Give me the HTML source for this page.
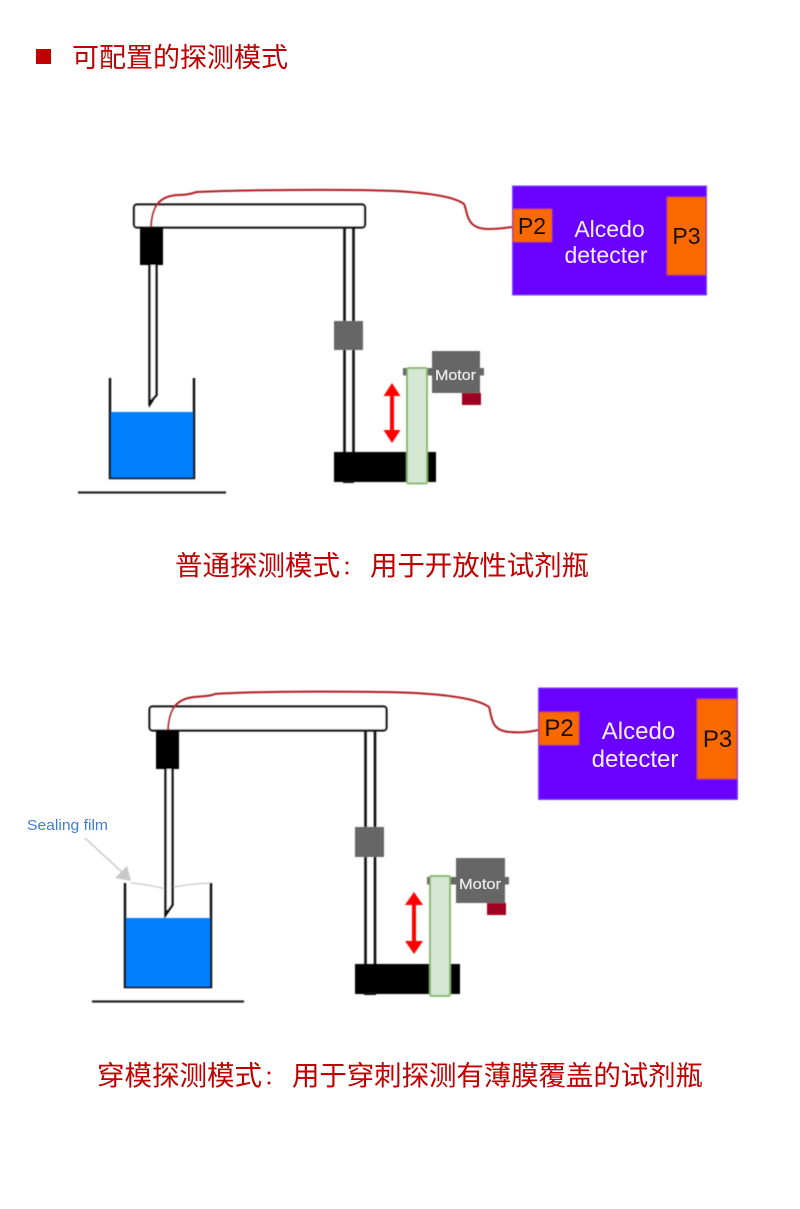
<!DOCTYPE html>
<html lang="zh"><head><meta charset="utf-8"><title>可配置的探测模式</title>
<style>
html,body{margin:0;padding:0;background:#fff}
svg{display:block}
.cjk{font-family:"Liberation Sans","Noto Sans CJK SC",sans-serif;fill:#c00000}
.lat{font-family:"Liberation Sans",sans-serif}
</style></head><body>
<svg width="800" height="1209" viewBox="0 0 800 1209" xmlns="http://www.w3.org/2000/svg">
<defs>
<filter id="b" x="-5%" y="-5%" width="110%" height="110%"><feGaussianBlur stdDeviation="0.4"/></filter>
<filter id="t" x="-5%" y="-5%" width="110%" height="110%"><feGaussianBlur stdDeviation="0.3"/></filter>
</defs>
<rect x="36" y="49" width="15" height="15" fill="#c00000"/>
<g filter="url(#t)">
<text class="cjk" x="72" y="67" font-size="27" textLength="216" lengthAdjust="spacing">可配置的探测模式</text>
<text class="cjk" x="175" y="575" font-size="27.5" textLength="165" lengthAdjust="spacing">普通探测模式</text>
<text class="cjk" x="342" y="574" font-size="20">：</text>
<text class="cjk" x="370" y="575" font-size="27.5" textLength="219" lengthAdjust="spacing">用于开放性试剂瓶</text>
<text class="cjk" x="97" y="1085" font-size="27.5" textLength="165" lengthAdjust="spacing">穿模探测模式</text>
<text class="cjk" x="264" y="1084" font-size="20">：</text>
<text class="cjk" x="292" y="1085" font-size="27.5" textLength="411" lengthAdjust="spacing">用于穿刺探测有薄膜覆盖的试剂瓶</text>
</g>

<g filter="url(#b)">
<!-- diagram 1 -->
<rect x="134" y="204.500" width="231" height="23" rx="3" fill="#fff" stroke="#111" stroke-width="2.200"/>
<rect x="140" y="227" width="23" height="38" fill="#000"/>
<path d="M149.500 265V403L156.500 395V265" fill="#fff" stroke="#111" stroke-width="2.400"/>
<path d="M149 408V400L154 400Z" fill="#111"/>
<path d="M110 378V478H194V378" fill="none" stroke="#111" stroke-width="2.400"/>
<rect x="111" y="412" width="82" height="65.500" fill="#0080ff"/>
<path d="M78 492.500H226" stroke="#222" stroke-width="2.200"/>
<path d="M344.500 227V482M353.500 227V482" stroke="#111" stroke-width="2.600"/>
<rect x="334" y="321" width="29" height="29" fill="#666"/>
<rect x="334" y="452" width="102" height="30" fill="#000"/>
<rect x="343" y="480" width="11" height="3" fill="#111"/>
<rect x="432" y="351" width="48" height="42" fill="#666"/>
<rect x="403" y="368" width="81" height="7.500" fill="#666"/>
<rect x="462" y="393" width="19" height="12" fill="#a00024"/>
<rect x="407" y="368" width="20" height="115.500" rx="1.500" fill="#d5e8d4" stroke="#82b366" stroke-width="1.800"/>
<path d="M392 383L400.500 396H394V430H400.500L392 443L383.500 430H390V396H383.500Z" fill="#f00"/>
<path d="M151 227C152 205 160 196 178 195C190 195 192 193 197 192C240 190 340 189 395 191C430 193 455 197 464 204C468 212 465 228 487 229C497 229 505 228 512 227" fill="none" stroke="#b01c24" stroke-width="2"/>
<rect x="512.500" y="186" width="194" height="109" fill="#6a00ff" stroke="#7a3cff" stroke-width="1"/>
<rect x="513" y="209" width="39" height="33" fill="#fa6800" stroke="#c73b0b" stroke-width="0.800"/>
<rect x="667" y="197" width="39" height="78" fill="#fa6800" stroke="#c73b0b" stroke-width="0.800"/>

<!-- diagram 2 -->
<rect x="149.500" y="706.500" width="237" height="24" rx="3" fill="#fff" stroke="#111" stroke-width="2.200"/>
<rect x="156" y="730" width="23" height="39" fill="#000"/>
<path d="M131 883C145 884 158 887 166 889C173 887 186 884 211 883" fill="none" stroke="#c8c8c8" stroke-width="1.200"/>
<path d="M165.500 769V915L172.500 905V769" fill="#fff" stroke="#111" stroke-width="2.400"/>
<path d="M165 918V910L170 910Z" fill="#111"/>
<path d="M125 883V987H211V883" fill="none" stroke="#111" stroke-width="2.400"/>
<rect x="126" y="918" width="84" height="68.500" fill="#0080ff"/>
<path d="M92 1001.500H244" stroke="#222" stroke-width="2.200"/>
<path d="M365.500 730V992M375 730V992" stroke="#111" stroke-width="2.600"/>
<rect x="355" y="827" width="29" height="30" fill="#666"/>
<rect x="355" y="964" width="105" height="30" fill="#000"/>
<rect x="364" y="992" width="12" height="3" fill="#111"/>
<rect x="456" y="858" width="49" height="45" fill="#666"/>
<rect x="427" y="877" width="82" height="7.500" fill="#666"/>
<rect x="487" y="903" width="19" height="12" fill="#a00024"/>
<rect x="430" y="876" width="20" height="120" rx="1.500" fill="#d5e8d4" stroke="#82b366" stroke-width="1.800"/>
<path d="M414 892L423 905H416V941H423L414 954L405 941H412V905H405Z" fill="#f00"/>
<path d="M168 730C169 708 177 699 194 697C205 696 211 696 215 694C260 691 360 691 415 693C450 695 478 699 489 707C492 716 490 731 510 732C520 733 530 732 538 730" fill="none" stroke="#b01c24" stroke-width="2"/>
<rect x="538.500" y="688" width="199" height="111.500" fill="#6a00ff" stroke="#7a3cff" stroke-width="1"/>
<rect x="539" y="712" width="40" height="33" fill="#fa6800" stroke="#c73b0b" stroke-width="0.800"/>
<rect x="697" y="699" width="40" height="80" fill="#fa6800" stroke="#c73b0b" stroke-width="0.800"/>
<path d="M85 838L124 874" stroke="#c8c8c8" stroke-width="1.500"/>
<path d="M131 881L115 878L127 866Z" fill="#c8c8c8"/>
</g>

<g class="lat" filter="url(#t)">
<text x="532" y="234" font-size="23" fill="#1a1000" text-anchor="middle">P2</text>
<text x="686.500" y="244" font-size="23" fill="#1a1000" text-anchor="middle">P3</text>
<text x="609.500" y="237" font-size="23" fill="#f4f0ff" text-anchor="middle">Alcedo</text>
<text x="606" y="263" font-size="23" fill="#f4f0ff" text-anchor="middle">detecter</text>
<text x="455.500" y="380" font-size="15" fill="#e8e8e8" text-anchor="middle" textLength="41" lengthAdjust="spacingAndGlyphs" stroke="#e8e8e8" stroke-width="0.250">Motor</text>
<text x="559" y="736" font-size="24" fill="#1a1000" text-anchor="middle">P2</text>
<text x="717.500" y="747" font-size="24" fill="#1a1000" text-anchor="middle">P3</text>
<text x="638.500" y="739" font-size="24" fill="#f4f0ff" text-anchor="middle">Alcedo</text>
<text x="635" y="767" font-size="24" fill="#f4f0ff" text-anchor="middle">detecter</text>
<text x="480" y="889" font-size="15" fill="#e8e8e8" text-anchor="middle" textLength="42" lengthAdjust="spacingAndGlyphs" stroke="#e8e8e8" stroke-width="0.250">Motor</text>
<text x="27" y="830" font-size="15" fill="#3f7fd0" textLength="81" lengthAdjust="spacingAndGlyphs">Sealing film</text>
</g>
</svg>
</body></html>
